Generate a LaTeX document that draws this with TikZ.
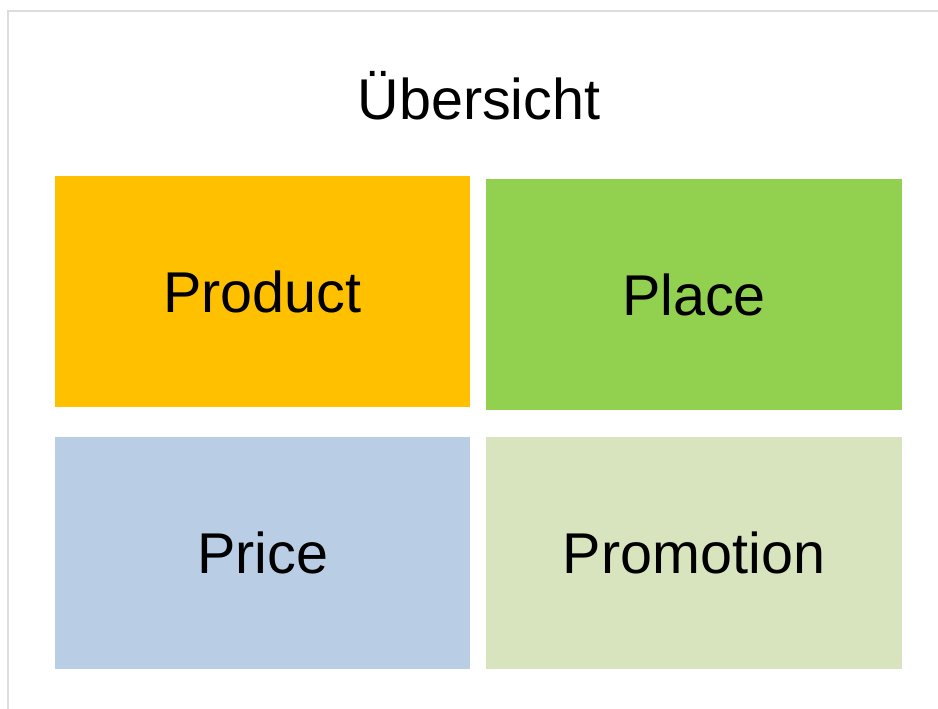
\documentclass[tikz,border=0pt]{standalone}
\usepackage{fontspec}
\setmainfont{Liberation Sans}
\usetikzlibrary{positioning}
\definecolor{productcol}{HTML}{FFC000}
\definecolor{placecol}{HTML}{92D050}
\definecolor{pricecol}{HTML}{B9CDE5}
\definecolor{promocol}{HTML}{D7E4BD}
\definecolor{framecol}{HTML}{DDDDDD}
\tikzstyle{quad}=[minimum width=415pt, minimum height=231pt, inner sep=0pt, font=\fontsize{57.5}{62}\selectfont]

\begin{document}
\begin{tikzpicture}[x=1pt, y=-1pt]
\useasboundingbox (0,0) rectangle (938,709);
% Frame
    \draw[line width=2pt, framecol] (8,709) -- (8,11) -- (938,11);
% Title
    \node[anchor=base, font=\fontsize{57.5}{62}\selectfont] (title) at (479,120) {Übersicht};
% Boxes
    \node[quad, fill=productcol] (product) at (262.5,291.5) {Product};
    \node[quad, fill=placecol, minimum width=416pt] (place) at (694,294.5) {Place};
    \node[quad, fill=pricecol, minimum height=232pt] (price) at (262.5,553) {Price};
    \node[quad, fill=promocol, minimum width=416pt, minimum height=232pt] (promotion) at (694,553) {Promotion};
\end{tikzpicture}
\end{document}
